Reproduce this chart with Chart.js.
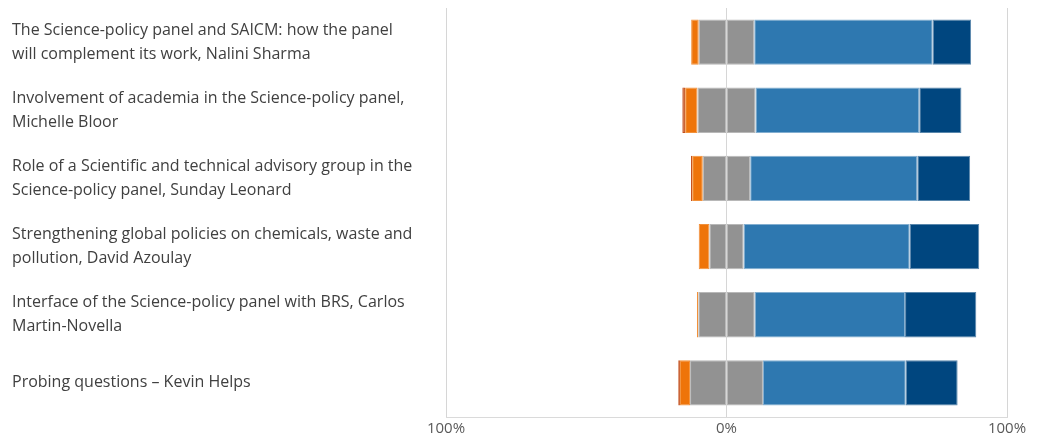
<!DOCTYPE html>
<html>
<head>
<meta charset="utf-8">
<script src="https://cdn.jsdelivr.net/npm/chart.js@4/dist/chart.umd.min.js"></script>
<style>
  html, body { margin: 0; padding: 0; background: #fff; }
  #wrap { width: 1037px; height: 435px; position: relative; }
</style>
</head>
<body>
<div id="wrap"><canvas id="myChart"></canvas></div>
<script>
// session titles (one array per label line)
let sessions = [
    ['The Science-policy panel and SAICM: how the panel', 'will complement its work, Nalini Sharma'],
    ['Involvement of academia in the Science-policy panel,', 'Michelle Bloor'],
    ['Role of a Scientific and technical advisory group in the', 'Science-policy panel, Sunday Leonard'],
    ['Strengthening global policies on chemicals, waste and', 'pollution, David Azoulay'],
    ['Interface of the Science-policy panel with BRS, Carlos', 'Martin-Novella'],
    'Probing questions \u2013 Kevin Helps'
];

// share of answers per session, in percent
let stronglyDisagree = [0, 1.0, 0.4, 0, 0, 0.6];
let disagree = [2.7, 4.4, 3.8, 3.8, 0.5, 3.6];
let neutral = [19.8, 20.7, 16.9, 12.2, 20.1, 26.0];
let agree = [63.6, 58.4, 59.6, 59.2, 53.6, 50.9];
let stronglyAgree = [13.7, 15.0, 18.8, 24.8, 25.4, 18.5];

// axis ticks
let xTicks = [-100, 0, 100];

// fill colour and a softer edge colour for each answer
let colors = {
    stronglyDisagree: ['#c4501c', '#c4501c'],
    disagree: ['#ee7409', 'rgba(238,116,9,0.8)'],
    neutral: ['#929292', 'rgba(146,146,146,0.65)'],
    agree: ['#2e78b0', 'rgba(46,120,176,0.6)'],
    stronglyAgree: ['#00467f', 'rgba(0,70,127,0.65)']
};

// negative side stacks outward from zero: neutral half first
let neg = arr => arr.map(v => -v);
let half = arr => arr.map(v => v / 2);

function bar(label, data, color) {
    return {
        label: label,
        data: data,
        backgroundColor: color[0],
        borderColor: color[1],
        borderWidth: 1,
        borderSkipped: false,
        categoryPercentage: 1,
        barPercentage: 0.665
    };
}

let ctx = document.getElementById('myChart').getContext('2d');

let chart = new Chart(ctx, {
    type: 'bar',
    data: {
        labels: sessions,
        datasets: [
            bar('Neutral', neg(half(neutral)), colors.neutral),
            bar('Disagree', neg(disagree), colors.disagree),
            bar('Strongly disagree', neg(stronglyDisagree), colors.stronglyDisagree),
            bar('Neutral', half(neutral), colors.neutral),
            bar('Agree', agree, colors.agree),
            bar('Strongly agree', stronglyAgree, colors.stronglyAgree)
        ]
    },
    options: {
        indexAxis: 'y',
        responsive: true,
        maintainAspectRatio: false,
        animation: false,
        layout: {
            padding: { left: 12, right: 30, top: 8, bottom: 0 }
        },
        plugins: {
            legend: { display: false },
            tooltip: { enabled: false }
        },
        scales: {
            x: {
                stacked: true,
                min: -100,
                max: 100,
                z: 1,
                afterBuildTicks: scale => {
                    scale.ticks = xTicks.map(v => ({ value: v }));
                },
                afterFit: scale => {
                    scale.height = 18;
                    scale.paddingLeft = 0;
                    scale.paddingRight = 0;
                },
                grid: {
                    color: '#d6d6d6',
                    drawTicks: false
                },
                border: { color: '#dadada' },
                ticks: {
                    padding: 3,
                    color: '#595959',
                    font: { family: 'Open Sans', size: 15 },
                    callback: v => Math.abs(v) + '%'
                }
            },
            y: {
                stacked: true,
                afterFit: scale => {
                    scale.width = 434;
                    scale.paddingTop = 0;
                    scale.paddingBottom = 0;
                },
                grid: { display: false },
                border: { display: false },
                ticks: {
                    crossAlign: 'far',
                    color: '#404040',
                    font: { family: 'Open Sans', size: 16, lineHeight: 1.5 }
                }
            }
        }
    }
});
</script>
</body>
</html>
